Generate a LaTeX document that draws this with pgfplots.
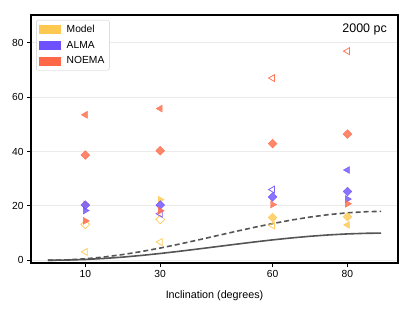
\documentclass[border=0pt]{standalone}
\usepackage{pgfplots}
\pgfplotsset{compat=1.18}
\usepackage{fontspec}
\setmainfont{Liberation Sans}
\definecolor{model}{RGB}{255,200,80}
\definecolor{alma}{RGB}{110,80,255}
\definecolor{noema}{RGB}{255,104,70}
\definecolor{curve}{RGB}{85,85,85}
\pgfplotsset{
  fdia/.style={only marks, mark=square*, mark size=3.1bp, mark options={rotate=45, fill=#1, draw=#1, fill opacity=0.8, draw opacity=0.9}},
  odia/.style={only marks, mark=square, mark size=3.1bp, mark options={rotate=45, draw=#1, line width=0.8bp, draw opacity=0.9}},
  fltri/.style={only marks, mark=triangle*, mark size=4bp, mark options={rotate=90, fill=#1, draw=#1, fill opacity=0.8, draw opacity=0.9}},
  oltri/.style={only marks, mark=triangle, mark size=4bp, mark options={rotate=90, draw=#1, line width=0.8bp, draw opacity=0.9}},
  frtri/.style={only marks, mark=triangle*, mark size=4bp, mark options={rotate=-90, fill=#1, draw=#1, fill opacity=0.8, draw opacity=0.9}},
  patch/.style={legend image code/.code={\fill[#1, sharp corners] (0bp,-4bp) rectangle (21bp,4bp); \path (25bp,0bp);}},
}
\begin{document}
\begin{tikzpicture}
\begin{axis}[
  scale only axis, width=367bp, height=248bp,
  xmin=-4.5, xmax=93.5, ymin=-1, ymax=90.2,
  xtick={10,30,60,80}, ytick={0,20,40,60,80},
  tick align=outside, tick pos=left, major tick length=4bp,
  tick style={black, line width=0.9bp},
  axis line style={black, line width=1.3bp},
  ymajorgrids, grid style={color=black!8, line width=0.8bp},
  ticklabel style={font=\fontsize{10.3}{12}\selectfont},
  /pgf/number format/assume math mode=true,
  xlabel={Inclination (degrees)},
  xlabel style={font=\fontsize{10.8}{12}\selectfont, at={(axis description cs:0.5,0)}, anchor=center, yshift=-33bp},
  legend style={at={(rel axis cs:0.014,0.98)}, anchor=north west, font=\fontsize{10.3}{12}\selectfont, draw=black!20, rounded corners=2pt, row sep=3bp, inner xsep=3bp, inner ysep=3bp},
  legend cell align=left,
]
\coordinate (ll) at (rel axis cs:0,0);
\coordinate (ur) at (rel axis cs:1,1);
\addlegendimage{patch=model}
\addlegendentry{Model}
\addlegendimage{patch=alma}
\addlegendentry{ALMA}
\addlegendimage{patch=noema}
\addlegendentry{NOEMA}

% curves
\addplot[forget plot, curve, line width=1.6bp, no marks] coordinates {
(0,0) (5,0.076) (10,0.302) (15,0.670) (20,1.170) (25,1.786) (30,2.5) (35,3.290) (40,4.132) (45,5.0) (50,5.868) (55,6.710) (60,7.5) (65,8.214) (70,8.830) (75,9.330) (80,9.698) (85,9.924) (89,9.997)};
\addplot[forget plot, curve, line width=1.6bp, no marks, dash pattern=on 5bp off 3bp] coordinates {
(0,0) (5,0.137) (10,0.543) (15,1.206) (20,2.106) (25,3.215) (30,4.5) (35,5.922) (40,7.437) (45,9.0) (50,10.563) (55,12.078) (60,13.5) (65,14.785) (70,15.894) (75,16.794) (80,17.457) (85,17.863) (89,17.995)};

% Model
\addplot[forget plot, frtri=model] coordinates {(10,20.6) (30,22.3)};
\addplot[forget plot, odia=model] coordinates {(10,13.2) (30,15.0)};
\addplot[forget plot, fdia=model] coordinates {(60,15.7) (80,16.0)};
\addplot[forget plot, oltri=model] coordinates {(10,3.1) (30,6.7) (60,12.8)};
\addplot[forget plot, fltri=model] coordinates {(80,13.0)};

% ALMA
\addplot[forget plot, fdia=alma] coordinates {(10,20.3) (30,20.3) (60,23.3) (80,25.3)};
\addplot[forget plot, frtri=alma] coordinates {(10,18.3) (80,22.5)};
\addplot[forget plot, oltri=alma] coordinates {(30,17.1) (60,26.0)};
\addplot[forget plot, fltri=alma] coordinates {(80,33.2)};

% NOEMA
\addplot[forget plot, fltri=noema] coordinates {(10,53.5) (30,55.8)};
\addplot[forget plot, oltri=noema] coordinates {(60,67.0) (80,76.9)};
\addplot[forget plot, fdia=noema] coordinates {(10,38.7) (30,40.3) (60,42.9) (80,46.4)};
\addplot[forget plot, frtri=noema] coordinates {(10,14.5) (30,18.2) (60,20.5) (80,20.8)};

\node[anchor=north east, inner sep=0pt, font=\fontsize{12.5}{14}\selectfont] at (rel axis cs:0.97,0.965) {2000 pc};
\end{axis}
\pgfresetboundingbox
\path ([shift={(-31bp,-48bp)}]ll) rectangle ([shift={(17bp,15bp)}]ur);
\end{tikzpicture}
\end{document}
